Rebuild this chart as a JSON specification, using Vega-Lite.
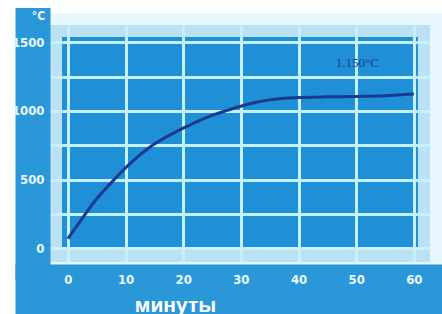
{
  "$schema": "https://vega.github.io/schema/vega-lite/v6.json",
  "width": 380,
  "height": 237,
  "autosize": {"type": "none"},
  "padding": {"left": 50, "top": 25, "right": 12, "bottom": 52},
  "background": "white",
  "config": {
    "view": {"fill": "#1f90d7", "stroke": "#e2f5fd", "strokeWidth": 24, "strokeOpacity": 0.8},
    "axis": {
      "gridColor": "#c4f0ff",
      "gridWidth": 3,
      "gridOpacity": 1,
      "ticks": false,
      "tickSize": 0,
      "domainColor": "#2a98d8",
      "labelColor": "#eaf7ff",
      "labelFont": "DejaVu Sans Condensed, sans-serif",
      "labelFontWeight": "bold",
      "labelFontSize": 13
    }
  },
  "resolve": {"axis": {"x": "independent", "y": "independent"}},
  "layer": [
    {
      "data": {
        "values": [
          {"min": 0, "temp": 70},
          {"min": 2.5, "temp": 218},
          {"min": 5, "temp": 360},
          {"min": 7.5, "temp": 476},
          {"min": 10, "temp": 585},
          {"min": 12.5, "temp": 680},
          {"min": 15, "temp": 758},
          {"min": 17.5, "temp": 820},
          {"min": 20, "temp": 874},
          {"min": 22.5, "temp": 924},
          {"min": 25, "temp": 967},
          {"min": 27.5, "temp": 1002},
          {"min": 30, "temp": 1034},
          {"min": 32.5, "temp": 1061},
          {"min": 35, "temp": 1080},
          {"min": 37.5, "temp": 1092},
          {"min": 40, "temp": 1097},
          {"min": 45, "temp": 1102},
          {"min": 50, "temp": 1105},
          {"min": 55, "temp": 1110},
          {"min": 60, "temp": 1122}
        ]
      },
      "mark": {"type": "line", "color": "#1b3a8c", "strokeWidth": 3, "interpolate": "monotone"},
      "encoding": {
        "x": {
          "field": "min",
          "type": "quantitative",
          "scale": {"domain": [-3.1, 62.8], "nice": false, "zero": false},
          "axis": {
            "orient": "bottom",
            "values": [0, 10, 20, 30, 40, 50, 60],
            "grid": true,
            "labels": false,
            "title": null,
            "offset": 37,
            "domainWidth": 70,
            "domainCap": "square",
            "zindex": 0
          }
        },
        "y": {
          "field": "temp",
          "type": "quantitative",
          "scale": {"domain": [-100, 1625], "nice": false, "zero": false},
          "axis": {
            "orient": "left",
            "values": [0, 250, 500, 750, 1000, 1250, 1500],
            "grid": true,
            "labels": false,
            "title": null,
            "offset": 17.5,
            "domainWidth": 35,
            "domainCap": "square",
            "zindex": 0
          }
        }
      }
    },
    {
      "data": {"values": [{"label": "1.150°C"}]},
      "mark": {"type": "text", "color": "#1d3f8f", "font": "Liberation Serif", "fontSize": 13, "align": "center", "baseline": "middle"},
      "encoding": {
        "text": {"field": "label"},
        "x": {
          "datum": 50.2,
          "type": "quantitative",
          "axis": {
            "orient": "bottom",
            "values": [0, 10, 20, 30, 40, 50, 60],
            "grid": false,
            "domain": false,
            "labelPadding": 11,
            "zindex": 1,
            "title": "минуты",
            "titleColor": "white",
            "titleFont": "Liberation Sans",
            "titleFontWeight": "bold",
            "titleFontSize": 21,
            "titleX": 125,
            "titleY": 49,
            "titleAlign": "center",
            "titleBaseline": "alphabetic"
          }
        },
        "y": {
          "datum": 1345,
          "type": "quantitative",
          "axis": {
            "orient": "left",
            "values": [0, 500, 1000, 1500],
            "format": "d",
            "grid": false,
            "domain": false,
            "labelPadding": 6,
            "zindex": 1,
            "title": "°C",
            "titleColor": "#eaf7ff",
            "titleFont": "DejaVu Sans Condensed, sans-serif",
            "titleFontWeight": "bold",
            "titleFontSize": 12,
            "titleAngle": 0,
            "titleX": -12,
            "titleY": -10,
            "titleAlign": "center",
            "titleBaseline": "middle"
          }
        }
      }
    }
  ]
}
